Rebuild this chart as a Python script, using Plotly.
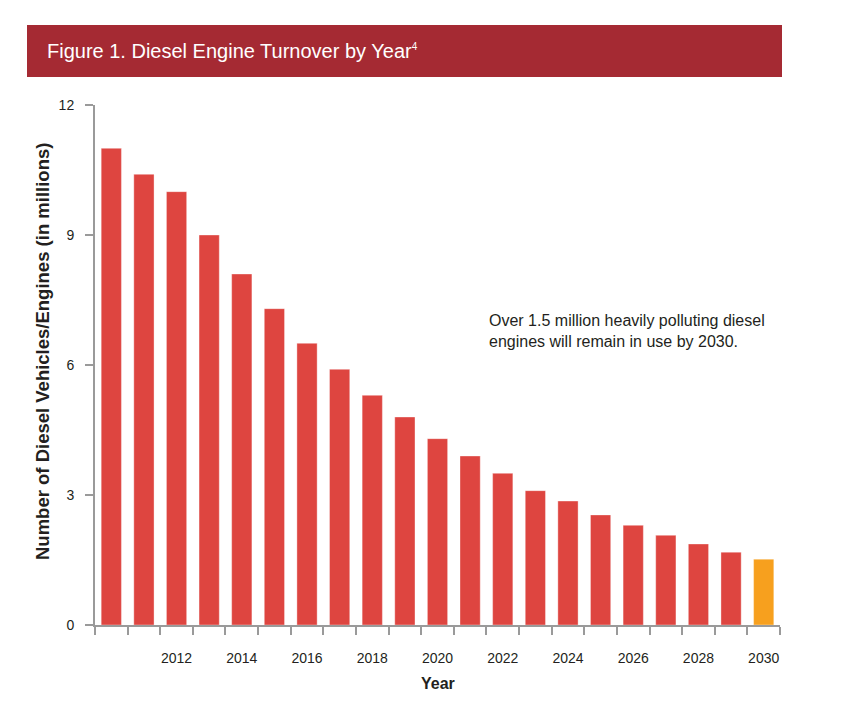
import plotly.graph_objects as go

years = list(range(2010, 2031))
values = [11.0, 10.4, 10.0, 9.0, 8.1, 7.3, 6.5, 5.9, 5.3, 4.8, 4.3, 3.9, 3.5, 3.1,
          2.86, 2.54, 2.3, 2.07, 1.87, 1.68, 1.52]
x_tick_years = list(range(2012, 2031, 2))
y_ticks = [0, 3, 6, 9, 12]

RED = "#de4540"
ORANGE = "#f7a01e"
colors = [ORANGE if y == 2030 else RED for y in years]

OFF = 8  # page body margin
W, H = 846, 722
L, R, T, B = 95 - OFF, 846 - (780 - OFF), 105 - OFF, 722 - (625 - OFF)
pw, ph = W - L - R, H - T - B

def px_x(x):
    return (x - OFF - L) / pw

def px_y(y):
    return (H - B - (y - OFF)) / ph

fig = go.Figure()
fig.add_trace(go.Bar(
    x=years, y=values,
    marker=dict(color=colors, line=dict(color="rgba(255,255,255,0.35)", width=1)),
    hoverinfo="x+y",
))

font_main = "Liberation Sans, Arial, sans-serif"
txt = "#231f20"
axis_grey = "#9a9a9a"

fig.update_layout(
    width=W, height=H,
    margin=dict(l=L, r=R, t=T, b=B),
    paper_bgcolor="white",
    plot_bgcolor="rgba(0,0,0,0)",
    showlegend=False,
    bargap=0.38,
    xaxis=dict(
        range=[years[0] - 0.5, years[-1] + 0.5],
        tickmode="array", tickvals=x_tick_years,
        ticktext=[str(y) for y in x_tick_years],
        tickangle=0, ticks="",
        minor=dict(ticks="outside", ticklen=8, tickcolor=axis_grey, tickwidth=2,
                   tick0=years[0] - 0.5, dtick=1, showgrid=False),
        showline=True, linecolor=axis_grey, linewidth=2,
        showgrid=False, zeroline=False,
        tickfont=dict(family=font_main, size=14, color=txt),
        ticklabelstandoff=19,
    ),
    yaxis=dict(
        range=[0, 12],
        tickmode="array", tickvals=y_ticks,
        ticks="outside", ticklen=8, tickcolor=axis_grey, tickwidth=2,
        showline=True, linecolor=axis_grey, linewidth=2,
        showgrid=False, zeroline=False,
        tickfont=dict(family=font_main, size=14, color=txt),
        ticklabelstandoff=8,
    ),
    shapes=[
        dict(type="rect", xref="paper", yref="paper", layer="below",
             x0=px_x(27), x1=px_x(782), y0=px_y(25), y1=px_y(77),
             fillcolor="#a52a33", line=dict(width=0)),
    ],
    annotations=[
        dict(text="Figure 1. Diesel Engine Turnover by Year<sup><span style='font-size:10px'>4</span></sup>",
             xref="paper", yref="paper", x=px_x(45), y=px_y(51),
             xanchor="left", yanchor="middle", showarrow=False,
             font=dict(family="Liberation Sans Narrow, Arial Narrow, sans-serif", size=20, color="white")),
        dict(text="Over 1.5 million heavily polluting diesel<br>engines will remain in use by 2030.",
             xref="paper", yref="paper", x=px_x(487), y=px_y(331),
             xanchor="left", yanchor="middle", align="left", showarrow=False,
             font=dict(family=font_main, size=16, color=txt)),
        dict(text="<b>Number of Diesel Vehicles/Engines (in millions)</b>",
             xref="paper", yref="paper", x=px_x(42), y=px_y(352),
             xanchor="center", yanchor="middle", textangle=-90, showarrow=False,
             font=dict(family=font_main, size=18.5, color=txt)),
        dict(text="<b>Year</b>",
             xref="paper", yref="paper", x=px_x(438), y=px_y(683),
             xanchor="center", yanchor="middle", showarrow=False,
             font=dict(family=font_main, size=16, color=txt)),
    ],
)

fig.write_html("out.html")
